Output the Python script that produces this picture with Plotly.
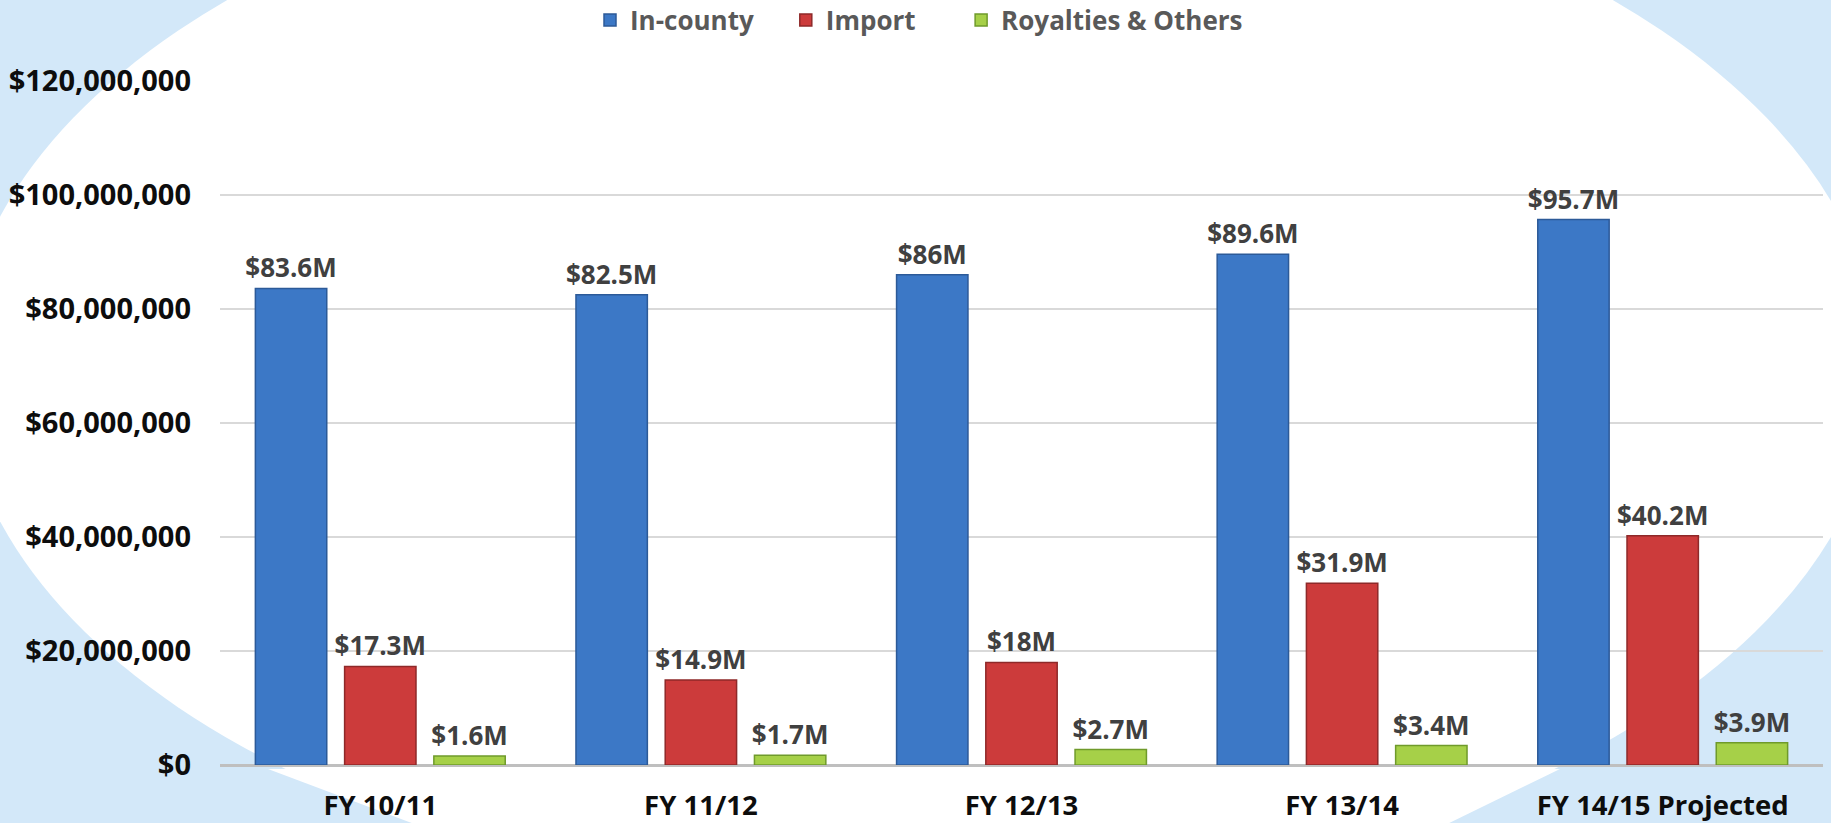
import plotly.graph_objects as go

categories = ["FY 10/11", "FY 11/12", "FY 12/13", "FY 13/14", "FY 14/15 Projected"]
in_county = [83.6e6, 82.5e6, 86.0e6, 89.6e6, 95.7e6]
imports = [17.3e6, 14.9e6, 18.0e6, 31.9e6, 40.2e6]
royalties = [1.6e6, 1.7e6, 2.7e6, 3.4e6, 3.9e6]
in_county_labels = ["$83.6M", "$82.5M", "$86M", "$89.6M", "$95.7M"]
import_labels = ["$17.3M", "$14.9M", "$18M", "$31.9M", "$40.2M"]
royalty_labels = ["$1.6M", "$1.7M", "$2.7M", "$3.4M", "$3.9M"]
y_ticks = [0, 20e6, 40e6, 60e6, 80e6, 100e6, 120e6]
y_tick_labels = ["$0", "$20,000,000", "$40,000,000", "$60,000,000",
                 "$80,000,000", "$100,000,000", "$120,000,000"]

W, H = 1831, 823
ML, MR, MT, MB = 220, 8, 81, 58
PW, PH = W - ML - MR, H - MT - MB

def px(x):
    return (x - ML) / PW

def py(y):
    return (H - MB - y) / PH

FONT = "Open Sans"

series = [
    ("In-county" + "\u00a0" * 4, in_county, in_county_labels, "#3c78c6", "#2c5a98"),
    ("Import" + "\u00a0" * 6, imports, import_labels, "#cc3b3b", "#8e2929"),
    ("Royalties & Others", royalties, royalty_labels, "#a6d048", "#6f9a2b"),
]

fig = go.Figure()
for name, vals, labels, col, line in series:
    fig.add_trace(go.Bar(
        x=categories, y=vals, name=name,
        text=labels, textposition="outside", constraintext="none",
        textfont=dict(family=FONT, size=26, color="#404040", weight="bold"),
        marker=dict(color=col, line=dict(color=line, width=1.5)),
        cliponaxis=False, hoverinfo="skip",
    ))

shapes = [
    dict(type="circle", xref="paper", yref="paper", layer="below",
         x0=px(-40), x1=px(1880), y0=py(902), y1=py(-164),
         fillcolor="white", line=dict(width=0)),
    dict(type="rect", xref="paper", yref="paper", layer="below",
         x0=px(-5), x1=px(W + 5), y0=py(H + 5), y1=py(769),
         fillcolor="#d3e8f9", line=dict(width=0)),
    dict(type="path", xref="paper", yref="paper", layer="below",
         path=(f"M {px(268)},{py(769)} L {px(1560)},{py(769)} "
               f"L {px(1439)},{py(H + 5)} L {px(425)},{py(H + 5)} Z"),
         fillcolor="white", line=dict(width=0)),
]

fig.update_layout(
    width=W, height=H,
    margin=dict(l=ML, r=MR, t=MT, b=MB, autoexpand=False),
    paper_bgcolor="#d3e8f9", plot_bgcolor="rgba(0,0,0,0)",
    barmode="group", bargap=0.165, bargroupgap=0.2,
    shapes=shapes,
    showlegend=True,
    legend=dict(orientation="h", xref="container", yref="container",
                x=590 / W, xanchor="left", y=1 - 20 / H, yanchor="middle",
                font=dict(family=FONT, size=26, color="#595959", weight="bold"),
                bgcolor="rgba(0,0,0,0)", traceorder="normal"),
    xaxis=dict(tickfont=dict(family=FONT, size=27.5, color="#0d0d0d", weight="bold"),
               showgrid=False, showline=False, ticks="", ticklabelstandoff=21,
               automargin=False),
    yaxis=dict(range=[0, 120e6], tickmode="array", tickvals=y_ticks,
               ticktext=y_tick_labels,
               tickfont=dict(family=FONT, size=29, color="#0d0d0d", weight="bold"),
               showgrid=True, gridcolor="#d9d9d9", gridwidth=2,
               zeroline=True, zerolinecolor="#bfbfbf", zerolinewidth=3,
               ticks="", ticklabelstandoff=28, automargin=False),
)

fig.write_html("out.html")
